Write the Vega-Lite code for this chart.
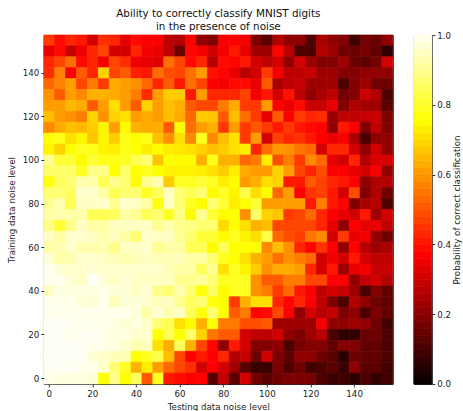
{"$schema":"https://vega.github.io/schema/vega-lite/v6.json","padding":{"left":5.8,"top":8,"right":0,"bottom":0},"background":"white","spacing":19,
"config":{"view":{"stroke":"#222","strokeWidth":1}},
"datasets":{"cells":[
{"x":0,"y":155,"p":0.45},{"x":5,"y":155,"p":0.38},{"x":10,"y":155,"p":0.42},{"x":15,"y":155,"p":0.4},{"x":20,"y":155,"p":0.3},{"x":25,"y":155,"p":0.43},{"x":30,"y":155,"p":0.42},{"x":35,"y":155,"p":0.33},{"x":40,"y":155,"p":0.38},{"x":45,"y":155,"p":0.36},{"x":50,"y":155,"p":0.36},{"x":55,"y":155,"p":0.27},{"x":60,"y":155,"p":0.25},{"x":65,"y":155,"p":0.36},{"x":70,"y":155,"p":0.2},{"x":75,"y":155,"p":0.18},{"x":80,"y":155,"p":0.35},{"x":85,"y":155,"p":0.36},{"x":90,"y":155,"p":0.35},{"x":95,"y":155,"p":0.17},{"x":100,"y":155,"p":0.12},{"x":105,"y":155,"p":0.25},{"x":110,"y":155,"p":0.2},{"x":115,"y":155,"p":0.2},{"x":120,"y":155,"p":0.1},{"x":125,"y":155,"p":0.24},{"x":130,"y":155,"p":0.2},{"x":135,"y":155,"p":0.18},{"x":140,"y":155,"p":0.08},{"x":145,"y":155,"p":0.16},{"x":150,"y":155,"p":0.14},{"x":155,"y":155,"p":0.2},
{"x":0,"y":150,"p":0.33},{"x":5,"y":150,"p":0.38},{"x":10,"y":150,"p":0.28},{"x":15,"y":150,"p":0.34},{"x":20,"y":150,"p":0.42},{"x":25,"y":150,"p":0.47},{"x":30,"y":150,"p":0.3},{"x":35,"y":150,"p":0.3},{"x":40,"y":150,"p":0.42},{"x":45,"y":150,"p":0.35},{"x":50,"y":150,"p":0.33},{"x":55,"y":150,"p":0.27},{"x":60,"y":150,"p":0.15},{"x":65,"y":150,"p":0.37},{"x":70,"y":150,"p":0.35},{"x":75,"y":150,"p":0.3},{"x":80,"y":150,"p":0.35},{"x":85,"y":150,"p":0.4},{"x":90,"y":150,"p":0.33},{"x":95,"y":150,"p":0.22},{"x":100,"y":150,"p":0.22},{"x":105,"y":150,"p":0.37},{"x":110,"y":150,"p":0.26},{"x":115,"y":150,"p":0.1},{"x":120,"y":150,"p":0.1},{"x":125,"y":150,"p":0.25},{"x":130,"y":150,"p":0.22},{"x":135,"y":150,"p":0.15},{"x":140,"y":150,"p":0.15},{"x":145,"y":150,"p":0.16},{"x":150,"y":150,"p":0.13},{"x":155,"y":150,"p":0.06},
{"x":0,"y":145,"p":0.42},{"x":5,"y":145,"p":0.47},{"x":10,"y":145,"p":0.53},{"x":15,"y":145,"p":0.38},{"x":20,"y":145,"p":0.42},{"x":25,"y":145,"p":0.35},{"x":30,"y":145,"p":0.47},{"x":35,"y":145,"p":0.43},{"x":40,"y":145,"p":0.34},{"x":45,"y":145,"p":0.33},{"x":50,"y":145,"p":0.32},{"x":55,"y":145,"p":0.53},{"x":60,"y":145,"p":0.47},{"x":65,"y":145,"p":0.38},{"x":70,"y":145,"p":0.42},{"x":75,"y":145,"p":0.26},{"x":80,"y":145,"p":0.38},{"x":85,"y":145,"p":0.37},{"x":90,"y":145,"p":0.4},{"x":95,"y":145,"p":0.3},{"x":100,"y":145,"p":0.27},{"x":105,"y":145,"p":0.3},{"x":110,"y":145,"p":0.2},{"x":115,"y":145,"p":0.3},{"x":120,"y":145,"p":0.22},{"x":125,"y":145,"p":0.18},{"x":130,"y":145,"p":0.18},{"x":135,"y":145,"p":0.22},{"x":140,"y":145,"p":0.14},{"x":145,"y":145,"p":0.13},{"x":150,"y":145,"p":0.16},{"x":155,"y":145,"p":0.3},
{"x":0,"y":140,"p":0.43},{"x":5,"y":140,"p":0.56},{"x":10,"y":140,"p":0.36},{"x":15,"y":140,"p":0.5},{"x":20,"y":140,"p":0.42},{"x":25,"y":140,"p":0.68},{"x":30,"y":140,"p":0.47},{"x":35,"y":140,"p":0.5},{"x":40,"y":140,"p":0.41},{"x":45,"y":140,"p":0.4},{"x":50,"y":140,"p":0.53},{"x":55,"y":140,"p":0.48},{"x":60,"y":140,"p":0.47},{"x":65,"y":140,"p":0.53},{"x":70,"y":140,"p":0.6},{"x":75,"y":140,"p":0.39},{"x":80,"y":140,"p":0.37},{"x":85,"y":140,"p":0.33},{"x":90,"y":140,"p":0.26},{"x":95,"y":140,"p":0.3},{"x":100,"y":140,"p":0.45},{"x":105,"y":140,"p":0.35},{"x":110,"y":140,"p":0.27},{"x":115,"y":140,"p":0.27},{"x":120,"y":140,"p":0.28},{"x":125,"y":140,"p":0.22},{"x":130,"y":140,"p":0.22},{"x":135,"y":140,"p":0.18},{"x":140,"y":140,"p":0.18},{"x":145,"y":140,"p":0.2},{"x":150,"y":140,"p":0.2},{"x":155,"y":140,"p":0.2},
{"x":0,"y":135,"p":0.52},{"x":5,"y":135,"p":0.56},{"x":10,"y":135,"p":0.6},{"x":15,"y":135,"p":0.47},{"x":20,"y":135,"p":0.55},{"x":25,"y":135,"p":0.45},{"x":30,"y":135,"p":0.62},{"x":35,"y":135,"p":0.6},{"x":40,"y":135,"p":0.58},{"x":45,"y":135,"p":0.52},{"x":50,"y":135,"p":0.42},{"x":55,"y":135,"p":0.5},{"x":60,"y":135,"p":0.4},{"x":65,"y":135,"p":0.53},{"x":70,"y":135,"p":0.47},{"x":75,"y":135,"p":0.36},{"x":80,"y":135,"p":0.35},{"x":85,"y":135,"p":0.38},{"x":90,"y":135,"p":0.38},{"x":95,"y":135,"p":0.33},{"x":100,"y":135,"p":0.5},{"x":105,"y":135,"p":0.24},{"x":110,"y":135,"p":0.27},{"x":115,"y":135,"p":0.28},{"x":120,"y":135,"p":0.22},{"x":125,"y":135,"p":0.22},{"x":130,"y":135,"p":0.22},{"x":135,"y":135,"p":0.1},{"x":140,"y":135,"p":0.18},{"x":145,"y":135,"p":0.22},{"x":150,"y":135,"p":0.15},{"x":155,"y":135,"p":0.15},
{"x":0,"y":130,"p":0.58},{"x":5,"y":130,"p":0.5},{"x":10,"y":130,"p":0.6},{"x":15,"y":130,"p":0.57},{"x":20,"y":130,"p":0.63},{"x":25,"y":130,"p":0.63},{"x":30,"y":130,"p":0.62},{"x":35,"y":130,"p":0.6},{"x":40,"y":130,"p":0.55},{"x":45,"y":130,"p":0.43},{"x":50,"y":130,"p":0.6},{"x":55,"y":130,"p":0.67},{"x":60,"y":130,"p":0.67},{"x":65,"y":130,"p":0.4},{"x":70,"y":130,"p":0.6},{"x":75,"y":130,"p":0.42},{"x":80,"y":130,"p":0.42},{"x":85,"y":130,"p":0.42},{"x":90,"y":130,"p":0.46},{"x":95,"y":130,"p":0.35},{"x":100,"y":130,"p":0.4},{"x":105,"y":130,"p":0.3},{"x":110,"y":130,"p":0.39},{"x":115,"y":130,"p":0.27},{"x":120,"y":130,"p":0.2},{"x":125,"y":130,"p":0.24},{"x":130,"y":130,"p":0.27},{"x":135,"y":130,"p":0.16},{"x":140,"y":130,"p":0.18},{"x":145,"y":130,"p":0.29},{"x":150,"y":130,"p":0.25},{"x":155,"y":130,"p":0.1},
{"x":0,"y":125,"p":0.6},{"x":5,"y":125,"p":0.6},{"x":10,"y":125,"p":0.64},{"x":15,"y":125,"p":0.62},{"x":20,"y":125,"p":0.5},{"x":25,"y":125,"p":0.6},{"x":30,"y":125,"p":0.7},{"x":35,"y":125,"p":0.6},{"x":40,"y":125,"p":0.5},{"x":45,"y":125,"p":0.68},{"x":50,"y":125,"p":0.6},{"x":55,"y":125,"p":0.65},{"x":60,"y":125,"p":0.63},{"x":65,"y":125,"p":0.5},{"x":70,"y":125,"p":0.47},{"x":75,"y":125,"p":0.47},{"x":80,"y":125,"p":0.55},{"x":85,"y":125,"p":0.62},{"x":90,"y":125,"p":0.45},{"x":95,"y":125,"p":0.45},{"x":100,"y":125,"p":0.6},{"x":105,"y":125,"p":0.36},{"x":110,"y":125,"p":0.33},{"x":115,"y":125,"p":0.38},{"x":120,"y":125,"p":0.28},{"x":125,"y":125,"p":0.28},{"x":130,"y":125,"p":0.33},{"x":135,"y":125,"p":0.18},{"x":140,"y":125,"p":0.25},{"x":145,"y":125,"p":0.23},{"x":150,"y":125,"p":0.22},{"x":155,"y":125,"p":0.12},
{"x":0,"y":120,"p":0.65},{"x":5,"y":120,"p":0.6},{"x":10,"y":120,"p":0.58},{"x":15,"y":120,"p":0.55},{"x":20,"y":120,"p":0.68},{"x":25,"y":120,"p":0.58},{"x":30,"y":120,"p":0.68},{"x":35,"y":120,"p":0.7},{"x":40,"y":120,"p":0.6},{"x":45,"y":120,"p":0.62},{"x":50,"y":120,"p":0.6},{"x":55,"y":120,"p":0.65},{"x":60,"y":120,"p":0.62},{"x":65,"y":120,"p":0.52},{"x":70,"y":120,"p":0.67},{"x":75,"y":120,"p":0.66},{"x":80,"y":120,"p":0.5},{"x":85,"y":120,"p":0.65},{"x":90,"y":120,"p":0.53},{"x":95,"y":120,"p":0.45},{"x":100,"y":120,"p":0.33},{"x":105,"y":120,"p":0.5},{"x":110,"y":120,"p":0.36},{"x":115,"y":120,"p":0.45},{"x":120,"y":120,"p":0.42},{"x":125,"y":120,"p":0.43},{"x":130,"y":120,"p":0.21},{"x":135,"y":120,"p":0.27},{"x":140,"y":120,"p":0.27},{"x":145,"y":120,"p":0.28},{"x":150,"y":120,"p":0.28},{"x":155,"y":120,"p":0.17},
{"x":0,"y":115,"p":0.57},{"x":5,"y":115,"p":0.62},{"x":10,"y":115,"p":0.65},{"x":15,"y":115,"p":0.64},{"x":20,"y":115,"p":0.67},{"x":25,"y":115,"p":0.73},{"x":30,"y":115,"p":0.6},{"x":35,"y":115,"p":0.74},{"x":40,"y":115,"p":0.63},{"x":45,"y":115,"p":0.62},{"x":50,"y":115,"p":0.62},{"x":55,"y":115,"p":0.5},{"x":60,"y":115,"p":0.75},{"x":65,"y":115,"p":0.53},{"x":70,"y":115,"p":0.6},{"x":75,"y":115,"p":0.63},{"x":80,"y":115,"p":0.45},{"x":85,"y":115,"p":0.6},{"x":90,"y":115,"p":0.45},{"x":95,"y":115,"p":0.5},{"x":100,"y":115,"p":0.45},{"x":105,"y":115,"p":0.4},{"x":110,"y":115,"p":0.45},{"x":115,"y":115,"p":0.4},{"x":120,"y":115,"p":0.38},{"x":125,"y":115,"p":0.37},{"x":130,"y":115,"p":0.2},{"x":135,"y":115,"p":0.4},{"x":140,"y":115,"p":0.36},{"x":145,"y":115,"p":0.18},{"x":150,"y":115,"p":0.27},{"x":155,"y":115,"p":0.18},
{"x":0,"y":110,"p":0.75},{"x":5,"y":110,"p":0.77},{"x":10,"y":110,"p":0.7},{"x":15,"y":110,"p":0.73},{"x":20,"y":110,"p":0.66},{"x":25,"y":110,"p":0.73},{"x":30,"y":110,"p":0.67},{"x":35,"y":110,"p":0.77},{"x":40,"y":110,"p":0.74},{"x":45,"y":110,"p":0.77},{"x":50,"y":110,"p":0.65},{"x":55,"y":110,"p":0.58},{"x":60,"y":110,"p":0.7},{"x":65,"y":110,"p":0.57},{"x":70,"y":110,"p":0.78},{"x":75,"y":110,"p":0.57},{"x":80,"y":110,"p":0.65},{"x":85,"y":110,"p":0.7},{"x":90,"y":110,"p":0.45},{"x":95,"y":110,"p":0.6},{"x":100,"y":110,"p":0.3},{"x":105,"y":110,"p":0.46},{"x":110,"y":110,"p":0.42},{"x":115,"y":110,"p":0.44},{"x":120,"y":110,"p":0.4},{"x":125,"y":110,"p":0.36},{"x":130,"y":110,"p":0.33},{"x":135,"y":110,"p":0.36},{"x":140,"y":110,"p":0.24},{"x":145,"y":110,"p":0.1},{"x":150,"y":110,"p":0.2},{"x":155,"y":110,"p":0.2},
{"x":0,"y":105,"p":0.73},{"x":5,"y":105,"p":0.68},{"x":10,"y":105,"p":0.75},{"x":15,"y":105,"p":0.78},{"x":20,"y":105,"p":0.77},{"x":25,"y":105,"p":0.73},{"x":30,"y":105,"p":0.72},{"x":35,"y":105,"p":0.77},{"x":40,"y":105,"p":0.75},{"x":45,"y":105,"p":0.72},{"x":50,"y":105,"p":0.74},{"x":55,"y":105,"p":0.72},{"x":60,"y":105,"p":0.71},{"x":65,"y":105,"p":0.7},{"x":70,"y":105,"p":0.68},{"x":75,"y":105,"p":0.65},{"x":80,"y":105,"p":0.67},{"x":85,"y":105,"p":0.7},{"x":90,"y":105,"p":0.72},{"x":95,"y":105,"p":0.42},{"x":100,"y":105,"p":0.53},{"x":105,"y":105,"p":0.59},{"x":110,"y":105,"p":0.58},{"x":115,"y":105,"p":0.54},{"x":120,"y":105,"p":0.52},{"x":125,"y":105,"p":0.3},{"x":130,"y":105,"p":0.42},{"x":135,"y":105,"p":0.42},{"x":140,"y":105,"p":0.3},{"x":145,"y":105,"p":0.2},{"x":150,"y":105,"p":0.3},{"x":155,"y":105,"p":0.2},
{"x":0,"y":100,"p":0.89},{"x":5,"y":100,"p":0.8},{"x":10,"y":100,"p":0.8},{"x":15,"y":100,"p":0.74},{"x":20,"y":100,"p":0.8},{"x":25,"y":100,"p":0.77},{"x":30,"y":100,"p":0.77},{"x":35,"y":100,"p":0.78},{"x":40,"y":100,"p":0.83},{"x":45,"y":100,"p":0.86},{"x":50,"y":100,"p":0.66},{"x":55,"y":100,"p":0.75},{"x":60,"y":100,"p":0.74},{"x":65,"y":100,"p":0.74},{"x":70,"y":100,"p":0.63},{"x":75,"y":100,"p":0.77},{"x":80,"y":100,"p":0.63},{"x":85,"y":100,"p":0.63},{"x":90,"y":100,"p":0.52},{"x":95,"y":100,"p":0.55},{"x":100,"y":100,"p":0.72},{"x":105,"y":100,"p":0.48},{"x":110,"y":100,"p":0.55},{"x":115,"y":100,"p":0.45},{"x":120,"y":100,"p":0.57},{"x":125,"y":100,"p":0.52},{"x":130,"y":100,"p":0.33},{"x":135,"y":100,"p":0.3},{"x":140,"y":100,"p":0.42},{"x":145,"y":100,"p":0.25},{"x":150,"y":100,"p":0.31},{"x":155,"y":100,"p":0.31},
{"x":0,"y":95,"p":0.85},{"x":5,"y":95,"p":0.85},{"x":10,"y":95,"p":0.85},{"x":15,"y":95,"p":0.78},{"x":20,"y":95,"p":0.88},{"x":25,"y":95,"p":0.88},{"x":30,"y":95,"p":0.75},{"x":35,"y":95,"p":0.85},{"x":40,"y":95,"p":0.75},{"x":45,"y":95,"p":0.78},{"x":50,"y":95,"p":0.75},{"x":55,"y":95,"p":0.73},{"x":60,"y":95,"p":0.73},{"x":65,"y":95,"p":0.73},{"x":70,"y":95,"p":0.72},{"x":75,"y":95,"p":0.7},{"x":80,"y":95,"p":0.67},{"x":85,"y":95,"p":0.72},{"x":90,"y":95,"p":0.62},{"x":95,"y":95,"p":0.6},{"x":100,"y":95,"p":0.6},{"x":105,"y":95,"p":0.68},{"x":110,"y":95,"p":0.6},{"x":115,"y":95,"p":0.47},{"x":120,"y":95,"p":0.42},{"x":125,"y":95,"p":0.48},{"x":130,"y":95,"p":0.36},{"x":135,"y":95,"p":0.36},{"x":140,"y":95,"p":0.33},{"x":145,"y":95,"p":0.3},{"x":150,"y":95,"p":0.36},{"x":155,"y":95,"p":0.2},
{"x":0,"y":90,"p":0.76},{"x":5,"y":90,"p":0.84},{"x":10,"y":90,"p":0.86},{"x":15,"y":90,"p":0.92},{"x":20,"y":90,"p":0.92},{"x":25,"y":90,"p":0.83},{"x":30,"y":90,"p":0.89},{"x":35,"y":90,"p":0.86},{"x":40,"y":90,"p":0.74},{"x":45,"y":90,"p":0.89},{"x":50,"y":90,"p":0.92},{"x":55,"y":90,"p":0.67},{"x":60,"y":90,"p":0.78},{"x":65,"y":90,"p":0.78},{"x":70,"y":90,"p":0.8},{"x":75,"y":90,"p":0.78},{"x":80,"y":90,"p":0.72},{"x":85,"y":90,"p":0.74},{"x":90,"y":90,"p":0.6},{"x":95,"y":90,"p":0.63},{"x":100,"y":90,"p":0.7},{"x":105,"y":90,"p":0.68},{"x":110,"y":90,"p":0.4},{"x":115,"y":90,"p":0.4},{"x":120,"y":90,"p":0.5},{"x":125,"y":90,"p":0.46},{"x":130,"y":90,"p":0.42},{"x":135,"y":90,"p":0.4},{"x":140,"y":90,"p":0.36},{"x":145,"y":90,"p":0.2},{"x":150,"y":90,"p":0.25},{"x":155,"y":90,"p":0.25},
{"x":0,"y":85,"p":0.86},{"x":5,"y":85,"p":0.86},{"x":10,"y":85,"p":0.84},{"x":15,"y":85,"p":0.95},{"x":20,"y":85,"p":0.95},{"x":25,"y":85,"p":0.91},{"x":30,"y":85,"p":0.83},{"x":35,"y":85,"p":0.86},{"x":40,"y":85,"p":0.86},{"x":45,"y":85,"p":0.78},{"x":50,"y":85,"p":0.84},{"x":55,"y":85,"p":0.94},{"x":60,"y":85,"p":0.86},{"x":65,"y":85,"p":0.83},{"x":70,"y":85,"p":0.86},{"x":75,"y":85,"p":0.74},{"x":80,"y":85,"p":0.78},{"x":85,"y":85,"p":0.73},{"x":90,"y":85,"p":0.82},{"x":95,"y":85,"p":0.7},{"x":100,"y":85,"p":0.74},{"x":105,"y":85,"p":0.52},{"x":110,"y":85,"p":0.6},{"x":115,"y":85,"p":0.36},{"x":120,"y":85,"p":0.44},{"x":125,"y":85,"p":0.46},{"x":130,"y":85,"p":0.4},{"x":135,"y":85,"p":0.3},{"x":140,"y":85,"p":0.48},{"x":145,"y":85,"p":0.18},{"x":150,"y":85,"p":0.25},{"x":155,"y":85,"p":0.15},
{"x":0,"y":80,"p":0.89},{"x":5,"y":80,"p":0.92},{"x":10,"y":80,"p":0.83},{"x":15,"y":80,"p":0.94},{"x":20,"y":80,"p":0.94},{"x":25,"y":80,"p":0.95},{"x":30,"y":80,"p":0.89},{"x":35,"y":80,"p":0.95},{"x":40,"y":80,"p":0.94},{"x":45,"y":80,"p":0.91},{"x":50,"y":80,"p":0.76},{"x":55,"y":80,"p":0.94},{"x":60,"y":80,"p":0.86},{"x":65,"y":80,"p":0.78},{"x":70,"y":80,"p":0.74},{"x":75,"y":80,"p":0.86},{"x":80,"y":80,"p":0.8},{"x":85,"y":80,"p":0.72},{"x":90,"y":80,"p":0.75},{"x":95,"y":80,"p":0.8},{"x":100,"y":80,"p":0.6},{"x":105,"y":80,"p":0.6},{"x":110,"y":80,"p":0.6},{"x":115,"y":80,"p":0.6},{"x":120,"y":80,"p":0.4},{"x":125,"y":80,"p":0.55},{"x":130,"y":80,"p":0.4},{"x":135,"y":80,"p":0.37},{"x":140,"y":80,"p":0.18},{"x":145,"y":80,"p":0.24},{"x":150,"y":80,"p":0.26},{"x":155,"y":80,"p":0.1},
{"x":0,"y":75,"p":0.91},{"x":5,"y":75,"p":0.92},{"x":10,"y":75,"p":0.91},{"x":15,"y":75,"p":0.92},{"x":20,"y":75,"p":0.83},{"x":25,"y":75,"p":0.83},{"x":30,"y":75,"p":0.84},{"x":35,"y":75,"p":0.91},{"x":40,"y":75,"p":0.89},{"x":45,"y":75,"p":0.83},{"x":50,"y":75,"p":0.86},{"x":55,"y":75,"p":0.78},{"x":60,"y":75,"p":0.88},{"x":65,"y":75,"p":0.74},{"x":70,"y":75,"p":0.89},{"x":75,"y":75,"p":0.8},{"x":80,"y":75,"p":0.74},{"x":85,"y":75,"p":0.75},{"x":90,"y":75,"p":0.58},{"x":95,"y":75,"p":0.85},{"x":100,"y":75,"p":0.68},{"x":105,"y":75,"p":0.66},{"x":110,"y":75,"p":0.45},{"x":115,"y":75,"p":0.47},{"x":120,"y":75,"p":0.52},{"x":125,"y":75,"p":0.42},{"x":130,"y":75,"p":0.36},{"x":135,"y":75,"p":0.33},{"x":140,"y":75,"p":0.3},{"x":145,"y":75,"p":0.4},{"x":150,"y":75,"p":0.22},{"x":155,"y":75,"p":0.3},
{"x":0,"y":70,"p":0.88},{"x":5,"y":70,"p":0.8},{"x":10,"y":70,"p":0.88},{"x":15,"y":70,"p":0.94},{"x":20,"y":70,"p":0.91},{"x":25,"y":70,"p":0.91},{"x":30,"y":70,"p":0.94},{"x":35,"y":70,"p":0.94},{"x":40,"y":70,"p":0.94},{"x":45,"y":70,"p":0.94},{"x":50,"y":70,"p":0.89},{"x":55,"y":70,"p":0.92},{"x":60,"y":70,"p":0.89},{"x":65,"y":70,"p":0.88},{"x":70,"y":70,"p":0.86},{"x":75,"y":70,"p":0.86},{"x":80,"y":70,"p":0.69},{"x":85,"y":70,"p":0.75},{"x":90,"y":70,"p":0.7},{"x":95,"y":70,"p":0.63},{"x":100,"y":70,"p":0.65},{"x":105,"y":70,"p":0.47},{"x":110,"y":70,"p":0.47},{"x":115,"y":70,"p":0.47},{"x":120,"y":70,"p":0.47},{"x":125,"y":70,"p":0.42},{"x":130,"y":70,"p":0.33},{"x":135,"y":70,"p":0.2},{"x":140,"y":70,"p":0.36},{"x":145,"y":70,"p":0.33},{"x":150,"y":70,"p":0.33},{"x":155,"y":70,"p":0.27},
{"x":0,"y":65,"p":0.94},{"x":5,"y":65,"p":0.91},{"x":10,"y":65,"p":0.95},{"x":15,"y":65,"p":0.95},{"x":20,"y":65,"p":0.94},{"x":25,"y":65,"p":0.92},{"x":30,"y":65,"p":0.94},{"x":35,"y":65,"p":0.91},{"x":40,"y":65,"p":0.86},{"x":45,"y":65,"p":0.95},{"x":50,"y":65,"p":0.94},{"x":55,"y":65,"p":0.94},{"x":60,"y":65,"p":0.89},{"x":65,"y":65,"p":0.86},{"x":70,"y":65,"p":0.8},{"x":75,"y":65,"p":0.8},{"x":80,"y":65,"p":0.74},{"x":85,"y":65,"p":0.78},{"x":90,"y":65,"p":0.73},{"x":95,"y":65,"p":0.7},{"x":100,"y":65,"p":0.82},{"x":105,"y":65,"p":0.52},{"x":110,"y":65,"p":0.48},{"x":115,"y":65,"p":0.46},{"x":120,"y":65,"p":0.54},{"x":125,"y":65,"p":0.57},{"x":130,"y":65,"p":0.3},{"x":135,"y":65,"p":0.45},{"x":140,"y":65,"p":0.33},{"x":145,"y":65,"p":0.35},{"x":150,"y":65,"p":0.2},{"x":155,"y":65,"p":0.15},
{"x":0,"y":60,"p":0.91},{"x":5,"y":60,"p":0.92},{"x":10,"y":60,"p":0.95},{"x":15,"y":60,"p":0.92},{"x":20,"y":60,"p":0.92},{"x":25,"y":60,"p":0.92},{"x":30,"y":60,"p":0.88},{"x":35,"y":60,"p":0.94},{"x":40,"y":60,"p":0.94},{"x":45,"y":60,"p":0.95},{"x":50,"y":60,"p":0.89},{"x":55,"y":60,"p":0.91},{"x":60,"y":60,"p":0.91},{"x":65,"y":60,"p":0.83},{"x":70,"y":60,"p":0.83},{"x":75,"y":60,"p":0.74},{"x":80,"y":60,"p":0.83},{"x":85,"y":60,"p":0.75},{"x":90,"y":60,"p":0.75},{"x":95,"y":60,"p":0.75},{"x":100,"y":60,"p":0.57},{"x":105,"y":60,"p":0.65},{"x":110,"y":60,"p":0.58},{"x":115,"y":60,"p":0.42},{"x":120,"y":60,"p":0.37},{"x":125,"y":60,"p":0.44},{"x":130,"y":60,"p":0.36},{"x":135,"y":60,"p":0.2},{"x":140,"y":60,"p":0.36},{"x":145,"y":60,"p":0.26},{"x":150,"y":60,"p":0.22},{"x":155,"y":60,"p":0.24},
{"x":0,"y":55,"p":0.96},{"x":5,"y":55,"p":0.91},{"x":10,"y":55,"p":0.92},{"x":15,"y":55,"p":0.95},{"x":20,"y":55,"p":0.95},{"x":25,"y":55,"p":0.94},{"x":30,"y":55,"p":0.93},{"x":35,"y":55,"p":0.92},{"x":40,"y":55,"p":0.93},{"x":45,"y":55,"p":0.94},{"x":50,"y":55,"p":0.93},{"x":55,"y":55,"p":0.93},{"x":60,"y":55,"p":0.93},{"x":65,"y":55,"p":0.91},{"x":70,"y":55,"p":0.91},{"x":75,"y":55,"p":0.86},{"x":80,"y":55,"p":0.78},{"x":85,"y":55,"p":0.75},{"x":90,"y":55,"p":0.7},{"x":95,"y":55,"p":0.63},{"x":100,"y":55,"p":0.6},{"x":105,"y":55,"p":0.53},{"x":110,"y":55,"p":0.58},{"x":115,"y":55,"p":0.55},{"x":120,"y":55,"p":0.52},{"x":125,"y":55,"p":0.3},{"x":130,"y":55,"p":0.34},{"x":135,"y":55,"p":0.3},{"x":140,"y":55,"p":0.4},{"x":145,"y":55,"p":0.3},{"x":150,"y":55,"p":0.27},{"x":155,"y":55,"p":0.27},
{"x":0,"y":50,"p":0.98},{"x":5,"y":50,"p":0.96},{"x":10,"y":50,"p":0.95},{"x":15,"y":50,"p":0.95},{"x":20,"y":50,"p":0.96},{"x":25,"y":50,"p":0.95},{"x":30,"y":50,"p":0.95},{"x":35,"y":50,"p":0.95},{"x":40,"y":50,"p":0.95},{"x":45,"y":50,"p":0.95},{"x":50,"y":50,"p":0.95},{"x":55,"y":50,"p":0.93},{"x":60,"y":50,"p":0.91},{"x":65,"y":50,"p":0.91},{"x":70,"y":50,"p":0.84},{"x":75,"y":50,"p":0.89},{"x":80,"y":50,"p":0.7},{"x":85,"y":50,"p":0.78},{"x":90,"y":50,"p":0.73},{"x":95,"y":50,"p":0.67},{"x":100,"y":50,"p":0.58},{"x":105,"y":50,"p":0.62},{"x":110,"y":50,"p":0.62},{"x":115,"y":50,"p":0.6},{"x":120,"y":50,"p":0.42},{"x":125,"y":50,"p":0.3},{"x":130,"y":50,"p":0.4},{"x":135,"y":50,"p":0.22},{"x":140,"y":50,"p":0.33},{"x":145,"y":50,"p":0.35},{"x":150,"y":50,"p":0.28},{"x":155,"y":50,"p":0.28},
{"x":0,"y":45,"p":0.98},{"x":5,"y":45,"p":0.98},{"x":10,"y":45,"p":0.96},{"x":15,"y":45,"p":0.94},{"x":20,"y":45,"p":0.99},{"x":25,"y":45,"p":0.96},{"x":30,"y":45,"p":0.94},{"x":35,"y":45,"p":0.96},{"x":40,"y":45,"p":0.94},{"x":45,"y":45,"p":0.94},{"x":50,"y":45,"p":0.94},{"x":55,"y":45,"p":0.94},{"x":60,"y":45,"p":0.89},{"x":65,"y":45,"p":0.89},{"x":70,"y":45,"p":0.9},{"x":75,"y":45,"p":0.86},{"x":80,"y":45,"p":0.78},{"x":85,"y":45,"p":0.78},{"x":90,"y":45,"p":0.78},{"x":95,"y":45,"p":0.58},{"x":100,"y":45,"p":0.5},{"x":105,"y":45,"p":0.5},{"x":110,"y":45,"p":0.55},{"x":115,"y":45,"p":0.55},{"x":120,"y":45,"p":0.47},{"x":125,"y":45,"p":0.47},{"x":130,"y":45,"p":0.36},{"x":135,"y":45,"p":0.36},{"x":140,"y":45,"p":0.2},{"x":145,"y":45,"p":0.28},{"x":150,"y":45,"p":0.3},{"x":155,"y":45,"p":0.25},
{"x":0,"y":40,"p":0.94},{"x":5,"y":40,"p":0.97},{"x":10,"y":40,"p":0.97},{"x":15,"y":40,"p":0.97},{"x":20,"y":40,"p":0.97},{"x":25,"y":40,"p":0.98},{"x":30,"y":40,"p":0.96},{"x":35,"y":40,"p":0.96},{"x":40,"y":40,"p":0.94},{"x":45,"y":40,"p":0.96},{"x":50,"y":40,"p":0.88},{"x":55,"y":40,"p":0.86},{"x":60,"y":40,"p":0.92},{"x":65,"y":40,"p":0.86},{"x":70,"y":40,"p":0.76},{"x":75,"y":40,"p":0.84},{"x":80,"y":40,"p":0.74},{"x":85,"y":40,"p":0.78},{"x":90,"y":40,"p":0.78},{"x":95,"y":40,"p":0.58},{"x":100,"y":40,"p":0.55},{"x":105,"y":40,"p":0.45},{"x":110,"y":40,"p":0.52},{"x":115,"y":40,"p":0.4},{"x":120,"y":40,"p":0.36},{"x":125,"y":40,"p":0.27},{"x":130,"y":40,"p":0.3},{"x":135,"y":40,"p":0.28},{"x":140,"y":40,"p":0.22},{"x":145,"y":40,"p":0.1},{"x":150,"y":40,"p":0.18},{"x":155,"y":40,"p":0.13},
{"x":0,"y":35,"p":0.98},{"x":5,"y":35,"p":0.98},{"x":10,"y":35,"p":0.98},{"x":15,"y":35,"p":0.96},{"x":20,"y":35,"p":0.96},{"x":25,"y":35,"p":0.98},{"x":30,"y":35,"p":0.93},{"x":35,"y":35,"p":0.96},{"x":40,"y":35,"p":0.96},{"x":45,"y":35,"p":0.95},{"x":50,"y":35,"p":0.93},{"x":55,"y":35,"p":0.94},{"x":60,"y":35,"p":0.89},{"x":65,"y":35,"p":0.84},{"x":70,"y":35,"p":0.86},{"x":75,"y":35,"p":0.76},{"x":80,"y":35,"p":0.75},{"x":85,"y":35,"p":0.45},{"x":90,"y":35,"p":0.63},{"x":95,"y":35,"p":0.7},{"x":100,"y":35,"p":0.7},{"x":105,"y":35,"p":0.42},{"x":110,"y":35,"p":0.37},{"x":115,"y":35,"p":0.42},{"x":120,"y":35,"p":0.36},{"x":125,"y":35,"p":0.27},{"x":130,"y":35,"p":0.17},{"x":135,"y":35,"p":0.1},{"x":140,"y":35,"p":0.25},{"x":145,"y":35,"p":0.2},{"x":150,"y":35,"p":0.15},{"x":155,"y":35,"p":0.13},
{"x":0,"y":30,"p":0.98},{"x":5,"y":30,"p":0.98},{"x":10,"y":30,"p":0.98},{"x":15,"y":30,"p":0.98},{"x":20,"y":30,"p":0.98},{"x":25,"y":30,"p":0.98},{"x":30,"y":30,"p":0.98},{"x":35,"y":30,"p":0.98},{"x":40,"y":30,"p":0.96},{"x":45,"y":30,"p":0.91},{"x":50,"y":30,"p":0.96},{"x":55,"y":30,"p":0.92},{"x":60,"y":30,"p":0.94},{"x":65,"y":30,"p":0.84},{"x":70,"y":30,"p":0.76},{"x":75,"y":30,"p":0.86},{"x":80,"y":30,"p":0.75},{"x":85,"y":30,"p":0.5},{"x":90,"y":30,"p":0.55},{"x":95,"y":30,"p":0.37},{"x":100,"y":30,"p":0.38},{"x":105,"y":30,"p":0.47},{"x":110,"y":30,"p":0.36},{"x":115,"y":30,"p":0.2},{"x":120,"y":30,"p":0.3},{"x":125,"y":30,"p":0.26},{"x":130,"y":30,"p":0.28},{"x":135,"y":30,"p":0.17},{"x":140,"y":30,"p":0.2},{"x":145,"y":30,"p":0.1},{"x":150,"y":30,"p":0.17},{"x":155,"y":30,"p":0.13},
{"x":0,"y":25,"p":0.99},{"x":5,"y":25,"p":0.99},{"x":10,"y":25,"p":0.99},{"x":15,"y":25,"p":0.98},{"x":20,"y":25,"p":0.98},{"x":25,"y":25,"p":0.98},{"x":30,"y":25,"p":0.97},{"x":35,"y":25,"p":0.96},{"x":40,"y":25,"p":0.97},{"x":45,"y":25,"p":0.95},{"x":50,"y":25,"p":0.86},{"x":55,"y":25,"p":0.83},{"x":60,"y":25,"p":0.7},{"x":65,"y":25,"p":0.74},{"x":70,"y":25,"p":0.63},{"x":75,"y":25,"p":0.75},{"x":80,"y":25,"p":0.55},{"x":85,"y":25,"p":0.55},{"x":90,"y":25,"p":0.48},{"x":95,"y":25,"p":0.48},{"x":100,"y":25,"p":0.5},{"x":105,"y":25,"p":0.22},{"x":110,"y":25,"p":0.22},{"x":115,"y":25,"p":0.22},{"x":120,"y":25,"p":0.22},{"x":125,"y":25,"p":0.35},{"x":130,"y":25,"p":0.2},{"x":135,"y":25,"p":0.2},{"x":140,"y":25,"p":0.22},{"x":145,"y":25,"p":0.2},{"x":150,"y":25,"p":0.15},{"x":155,"y":25,"p":0.08},
{"x":0,"y":20,"p":0.99},{"x":5,"y":20,"p":0.99},{"x":10,"y":20,"p":0.98},{"x":15,"y":20,"p":0.99},{"x":20,"y":20,"p":0.99},{"x":25,"y":20,"p":0.98},{"x":30,"y":20,"p":0.97},{"x":35,"y":20,"p":0.97},{"x":40,"y":20,"p":0.95},{"x":45,"y":20,"p":0.95},{"x":50,"y":20,"p":0.75},{"x":55,"y":20,"p":0.83},{"x":60,"y":20,"p":0.75},{"x":65,"y":20,"p":0.85},{"x":70,"y":20,"p":0.68},{"x":75,"y":20,"p":0.54},{"x":80,"y":20,"p":0.5},{"x":85,"y":20,"p":0.5},{"x":90,"y":20,"p":0.3},{"x":95,"y":20,"p":0.27},{"x":100,"y":20,"p":0.27},{"x":105,"y":20,"p":0.3},{"x":110,"y":20,"p":0.2},{"x":115,"y":20,"p":0.17},{"x":120,"y":20,"p":0.22},{"x":125,"y":20,"p":0.26},{"x":130,"y":20,"p":0.1},{"x":135,"y":20,"p":0.05},{"x":140,"y":20,"p":0.06},{"x":145,"y":20,"p":0.14},{"x":150,"y":20,"p":0.15},{"x":155,"y":20,"p":0.1},
{"x":0,"y":15,"p":0.99},{"x":5,"y":15,"p":0.99},{"x":10,"y":15,"p":0.99},{"x":15,"y":15,"p":0.99},{"x":20,"y":15,"p":0.98},{"x":25,"y":15,"p":0.98},{"x":30,"y":15,"p":0.97},{"x":35,"y":15,"p":0.95},{"x":40,"y":15,"p":0.92},{"x":45,"y":15,"p":0.93},{"x":50,"y":15,"p":0.7},{"x":55,"y":15,"p":0.62},{"x":60,"y":15,"p":0.84},{"x":65,"y":15,"p":0.63},{"x":70,"y":15,"p":0.47},{"x":75,"y":15,"p":0.37},{"x":80,"y":15,"p":0.2},{"x":85,"y":15,"p":0.4},{"x":90,"y":15,"p":0.3},{"x":95,"y":15,"p":0.18},{"x":100,"y":15,"p":0.18},{"x":105,"y":15,"p":0.2},{"x":110,"y":15,"p":0.1},{"x":115,"y":15,"p":0.16},{"x":120,"y":15,"p":0.18},{"x":125,"y":15,"p":0.18},{"x":130,"y":15,"p":0.13},{"x":135,"y":15,"p":0.18},{"x":140,"y":15,"p":0.18},{"x":145,"y":15,"p":0.13},{"x":150,"y":15,"p":0.13},{"x":155,"y":15,"p":0.1},
{"x":0,"y":10,"p":0.99},{"x":5,"y":10,"p":0.99},{"x":10,"y":10,"p":0.99},{"x":15,"y":10,"p":0.99},{"x":20,"y":10,"p":0.96},{"x":25,"y":10,"p":0.95},{"x":30,"y":10,"p":0.93},{"x":35,"y":10,"p":0.93},{"x":40,"y":10,"p":0.75},{"x":45,"y":10,"p":0.78},{"x":50,"y":10,"p":0.82},{"x":55,"y":10,"p":0.65},{"x":60,"y":10,"p":0.47},{"x":65,"y":10,"p":0.36},{"x":70,"y":10,"p":0.4},{"x":75,"y":10,"p":0.36},{"x":80,"y":10,"p":0.42},{"x":85,"y":10,"p":0.25},{"x":90,"y":10,"p":0.28},{"x":95,"y":10,"p":0.15},{"x":100,"y":10,"p":0.3},{"x":105,"y":10,"p":0.17},{"x":110,"y":10,"p":0.12},{"x":115,"y":10,"p":0.2},{"x":120,"y":10,"p":0.2},{"x":125,"y":10,"p":0.15},{"x":130,"y":10,"p":0.12},{"x":135,"y":10,"p":0.05},{"x":140,"y":10,"p":0.15},{"x":145,"y":10,"p":0.13},{"x":150,"y":10,"p":0.13},{"x":155,"y":10,"p":0.1},
{"x":0,"y":5,"p":0.99},{"x":5,"y":5,"p":0.99},{"x":10,"y":5,"p":0.99},{"x":15,"y":5,"p":0.98},{"x":20,"y":5,"p":0.98},{"x":25,"y":5,"p":0.95},{"x":30,"y":5,"p":0.86},{"x":35,"y":5,"p":0.78},{"x":40,"y":5,"p":0.63},{"x":45,"y":5,"p":0.72},{"x":50,"y":5,"p":0.6},{"x":55,"y":5,"p":0.52},{"x":60,"y":5,"p":0.47},{"x":65,"y":5,"p":0.43},{"x":70,"y":5,"p":0.3},{"x":75,"y":5,"p":0.36},{"x":80,"y":5,"p":0.3},{"x":85,"y":5,"p":0.22},{"x":90,"y":5,"p":0.12},{"x":95,"y":5,"p":0.07},{"x":100,"y":5,"p":0.07},{"x":105,"y":5,"p":0.17},{"x":110,"y":5,"p":0.1},{"x":115,"y":5,"p":0.15},{"x":120,"y":5,"p":0.08},{"x":125,"y":5,"p":0.1},{"x":130,"y":5,"p":0.12},{"x":135,"y":5,"p":0.07},{"x":140,"y":5,"p":0.2},{"x":145,"y":5,"p":0.12},{"x":150,"y":5,"p":0.12},{"x":155,"y":5,"p":0.08},
{"x":0,"y":0,"p":0.98},{"x":5,"y":0,"p":0.97},{"x":10,"y":0,"p":0.97},{"x":15,"y":0,"p":0.97},{"x":20,"y":0,"p":0.96},{"x":25,"y":0,"p":0.75},{"x":30,"y":0,"p":0.88},{"x":35,"y":0,"p":0.75},{"x":40,"y":0,"p":0.84},{"x":45,"y":0,"p":0.5},{"x":50,"y":0,"p":0.78},{"x":55,"y":0,"p":0.4},{"x":60,"y":0,"p":0.38},{"x":65,"y":0,"p":0.36},{"x":70,"y":0,"p":0.37},{"x":75,"y":0,"p":0.12},{"x":80,"y":0,"p":0.27},{"x":85,"y":0,"p":0.12},{"x":90,"y":0,"p":0.3},{"x":95,"y":0,"p":0.15},{"x":100,"y":0,"p":0.12},{"x":105,"y":0,"p":0.15},{"x":110,"y":0,"p":0.17},{"x":115,"y":0,"p":0.17},{"x":120,"y":0,"p":0.16},{"x":125,"y":0,"p":0.1},{"x":130,"y":0,"p":0.07},{"x":135,"y":0,"p":0.08},{"x":140,"y":0,"p":0.05},{"x":145,"y":0,"p":0.1},{"x":150,"y":0,"p":0.06},{"x":155,"y":0,"p":0.08}
],
"bar":[{"lo":0,"hi":0.02},{"lo":0.02,"hi":0.04},{"lo":0.04,"hi":0.06},{"lo":0.06,"hi":0.08},{"lo":0.08,"hi":0.1},{"lo":0.1,"hi":0.12},{"lo":0.12,"hi":0.14},{"lo":0.14,"hi":0.16},{"lo":0.16,"hi":0.18},{"lo":0.18,"hi":0.2},{"lo":0.2,"hi":0.22},{"lo":0.22,"hi":0.24},{"lo":0.24,"hi":0.26},{"lo":0.26,"hi":0.28},{"lo":0.28,"hi":0.3},{"lo":0.3,"hi":0.32},{"lo":0.32,"hi":0.34},{"lo":0.34,"hi":0.36},{"lo":0.36,"hi":0.38},{"lo":0.38,"hi":0.4},{"lo":0.4,"hi":0.42},{"lo":0.42,"hi":0.44},{"lo":0.44,"hi":0.46},{"lo":0.46,"hi":0.48},{"lo":0.48,"hi":0.5},{"lo":0.5,"hi":0.52},{"lo":0.52,"hi":0.54},{"lo":0.54,"hi":0.56},{"lo":0.56,"hi":0.58},{"lo":0.58,"hi":0.6},{"lo":0.6,"hi":0.62},{"lo":0.62,"hi":0.64},{"lo":0.64,"hi":0.66},{"lo":0.66,"hi":0.68},{"lo":0.68,"hi":0.7},{"lo":0.7,"hi":0.72},{"lo":0.72,"hi":0.74},{"lo":0.74,"hi":0.76},{"lo":0.76,"hi":0.78},{"lo":0.78,"hi":0.8},{"lo":0.8,"hi":0.82},{"lo":0.82,"hi":0.84},{"lo":0.84,"hi":0.86},{"lo":0.86,"hi":0.88},{"lo":0.88,"hi":0.9},{"lo":0.9,"hi":0.92},{"lo":0.92,"hi":0.94},{"lo":0.94,"hi":0.96},{"lo":0.96,"hi":0.98},{"lo":0.98,"hi":1}]},
"hconcat":[
{"width":349,"height":349,
"title":{"text":["Ability to correctly classify MNIST digits","in the presence of noise"],"font":"DejaVu Sans","fontSize":10.4,"fontWeight":"normal","color":"#111","anchor":"middle","offset":2,"lineHeight":13},
"data":{"name":"cells"},
"mark":{"type":"rect","strokeWidth":0.7},
"encoding":{
"x":{"field":"x","type":"ordinal","scale":{"paddingInner":0,"paddingOuter":0},"axis":{"values":[0,20,40,60,80,100,120,140],"labelAngle":0,"title":"Testing data noise level","titleFont":"DejaVu Sans","titleFontWeight":"normal","titleFontSize":8.7,"titleColor":"#222","titlePadding":4,"labelFont":"DejaVu Sans","labelFontSize":8.7,"labelColor":"#222","tickColor":"#333","tickSize":3,"domain":false,"grid":false,"labelPadding":3}},
"y":{"field":"y","type":"ordinal","sort":"descending","scale":{"paddingInner":0,"paddingOuter":0},"axis":{"values":[0,20,40,60,80,100,120,140],"title":"Training data noise level","titleFont":"DejaVu Sans","titleFontWeight":"normal","titleFontSize":8.7,"titleColor":"#222","titlePadding":6,"labelFont":"DejaVu Sans","labelFontSize":8.7,"labelColor":"#222","tickColor":"#333","tickSize":3,"domain":false,"grid":false,"labelPadding":2}},
"stroke":{"field":"p","type":"quantitative","legend":null,"scale":{"domain":[0,0.365,0.746,1],"range":["#0a0000","#ff0000","#ffff00","#ffffff"],"interpolate":"rgb"}},
"color":{"field":"p","type":"quantitative","legend":null,"scale":{"domain":[0,0.365,0.746,1],"range":["#0a0000","#ff0000","#ffff00","#ffffff"],"interpolate":"rgb"}}
}},
{"width":18,"height":349,
"data":{"name":"bar"},
"mark":{"type":"rect","strokeWidth":0.7},
"encoding":{
"y":{"field":"lo","type":"quantitative","scale":{"domain":[0,1],"nice":false},"axis":{"orient":"right","values":[0,0.2,0.4,0.6,0.8,1],"format":".1f","title":"Probability of correct classification","titleFont":"DejaVu Sans","titleFontWeight":"normal","titleFontSize":8.7,"titleColor":"#222","titleAngle":270,"titlePadding":11,"labelFont":"DejaVu Sans","labelFontSize":8.7,"labelColor":"#222","tickColor":"#333","tickSize":3,"domain":false,"grid":false,"labelPadding":2}},
"y2":{"field":"hi"},
"stroke":{"field":"lo","type":"quantitative","legend":null,"scale":{"domain":[0,0.365,0.746,1],"range":["#0a0000","#ff0000","#ffff00","#ffffff"],"interpolate":"rgb"}},
"color":{"field":"lo","type":"quantitative","legend":null,"scale":{"domain":[0,0.365,0.746,1],"range":["#0a0000","#ff0000","#ffff00","#ffffff"],"interpolate":"rgb"}}
}}
]}
